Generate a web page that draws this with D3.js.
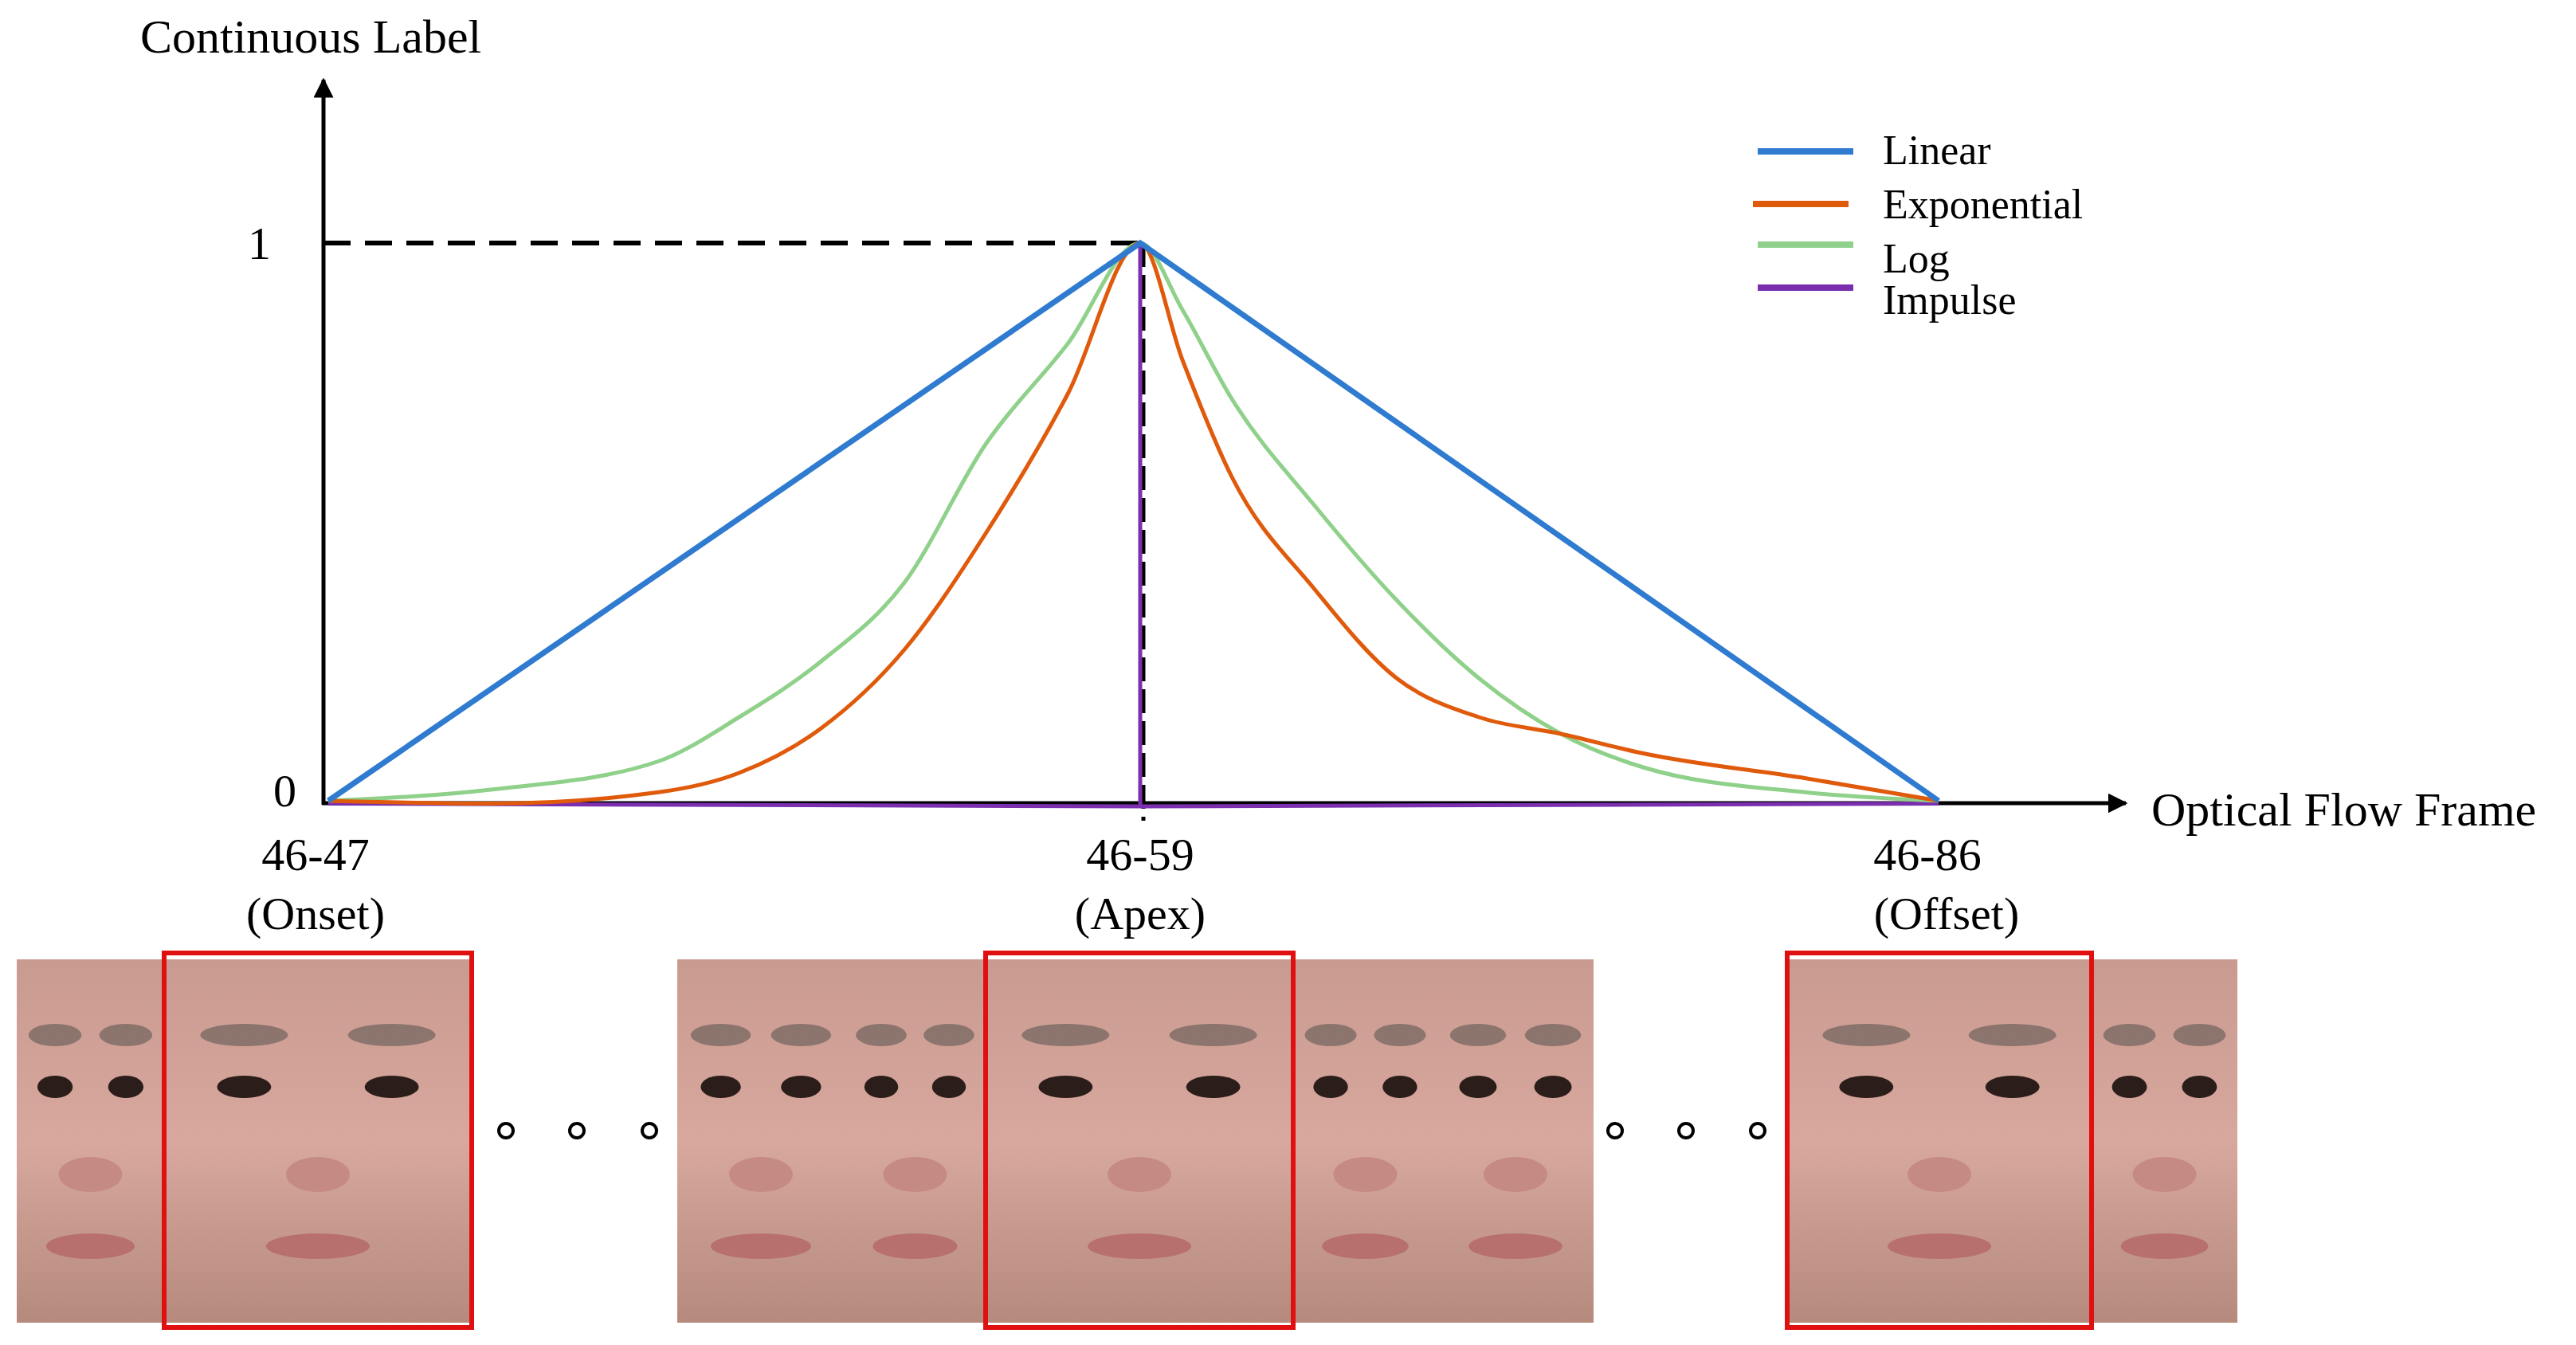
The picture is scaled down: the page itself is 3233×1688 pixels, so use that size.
<!DOCTYPE html>
<html><head><meta charset="utf-8">
<script src="https://cdn.jsdelivr.net/npm/d3@7"></script>
<style>body{margin:0;background:#fff}text{font-family:"Times New Roman","Liberation Serif","DejaVu Serif",serif;fill:#000}</style>
</head><body>
<svg id="chart" width="3233" height="1688"></svg>
<script>
// phase t: -1 = onset, 0 = apex, 1 = offset
var seriesNames = ["Linear", "Exponential", "Log", "Impulse"];
var seriesColors = ["#2f7bd0", "#e05a0c", "#8fd18a", "#7b2fae"];
var linearT = [-1, 0, 1];
var linearV = [0, 1, 0];
var expT = [-1, -0.8, -0.595, -0.494, -0.393, -0.291, -0.19, -0.089, 0, 0.053, 0.115, 0.218, 0.321, 0.424, 0.527, 0.63, 0.835, 1];
var expV = [0, -0.005, 0.015, 0.05, 0.13, 0.27, 0.48, 0.73, 1, 0.79, 0.58, 0.38, 0.22, 0.15, 0.12, 0.085, 0.04, 0];
var logT = [-1, -0.8, -0.595, -0.494, -0.393, -0.291, -0.19, -0.089, 0, 0.053, 0.115, 0.218, 0.321, 0.424, 0.527, 0.63, 0.835, 1];
var logV = [0, 0.02, 0.07, 0.15, 0.25, 0.39, 0.64, 0.82, 1, 0.88, 0.72, 0.53, 0.36, 0.22, 0.12, 0.06, 0.015, 0];
var impT = [-1, 0, 0, 0, 1];
var impV = [-0.005, -0.01, 1, -0.01, -0.005];
var tickLabels = ["46-47", "46-59", "46-86"];
var tickNotes = ["(Onset)", "(Apex)", "(Offset)"];
var tickT = [-1, 0, 1];

var svg = d3.select("#chart");
var xL = d3.scaleLinear().domain([-1, 0]).range([412, 1431]);
var xR = d3.scaleLinear().domain([0, 1]).range([1431, 2433]);
function x(t) { return t <= 0 ? xL(t) : xR(t); }
var y = d3.scaleLinear().domain([0, 1]).range([1005, 305]);

var defs = svg.append("defs");
defs.append("marker").attr("id", "arr").attr("viewBox", "0 0 10 10").attr("refX", 9).attr("refY", 5)
  .attr("markerWidth", 5).attr("markerHeight", 5).attr("orient", "auto")
  .append("path").attr("d", "M0,0L10,5L0,10z").attr("fill", "#000");

// dashed guides
svg.append("line").attr("x1", 406).attr("x2", x(0)).attr("y1", y(1)).attr("y2", y(1))
  .attr("stroke", "#000").attr("stroke-width", 6).attr("stroke-dasharray", "34,18");
svg.append("line").attr("x1", x(0) + 4).attr("x2", x(0) + 4).attr("y1", y(1)).attr("y2", 1030)
  .attr("stroke", "#000").attr("stroke-width", 5).attr("stroke-dasharray", "30,10");

// axes
svg.append("line").attr("x1", 406).attr("x2", 406).attr("y1", 1010).attr("y2", 100)
  .attr("stroke", "#000").attr("stroke-width", 5).attr("marker-end", "url(#arr)");
svg.append("line").attr("x1", 404).attr("x2", 2668).attr("y1", 1008).attr("y2", 1008)
  .attr("stroke", "#000").attr("stroke-width", 5).attr("marker-end", "url(#arr)");

var line = d3.line().x(function(d) { return x(d[0]); }).y(function(d) { return y(d[1]); });
var curve = d3.line().x(function(d) { return x(d[0]); }).y(function(d) { return y(d[1]); }).curve(d3.curveMonotoneX);
function pairs(ts, vs) { return ts.map(function(t, i) { return [t, vs[i]]; }); }

svg.append("path").attr("d", line(pairs(impT, impV))).attr("fill", "none").attr("stroke", seriesColors[3]).attr("stroke-width", 5);
svg.append("path").attr("d", curve(pairs(logT, logV))).attr("fill", "none").attr("stroke", seriesColors[2]).attr("stroke-width", 5);
svg.append("path").attr("d", curve(pairs(expT, expV))).attr("fill", "none").attr("stroke", seriesColors[1]).attr("stroke-width", 5);
svg.append("path").attr("d", line(pairs(linearT, linearV))).attr("fill", "none").attr("stroke", seriesColors[0]).attr("stroke-width", 7);

// labels
svg.append("text").attr("x", 176).attr("y", 66).attr("font-size", 60).text("Continuous Label");
svg.append("text").attr("x", 340).attr("y", y(1) + 20).attr("font-size", 58).attr("text-anchor", "end").text("1");
svg.append("text").attr("x", 372).attr("y", 1012).attr("font-size", 58).attr("text-anchor", "end").text("0");
svg.append("text").attr("x", 2700).attr("y", 1036).attr("font-size", 60).text("Optical Flow Frame");
var tickOff = [-16, 0, -14];
tickT.forEach(function(t, i) {
  svg.append("text").attr("x", x(t) + tickOff[i]).attr("y", 1092).attr("font-size", 58).attr("text-anchor", "middle").text(tickLabels[i]);
  svg.append("text").attr("x", x(t) + (i == 2 ? 10 : tickOff[i])).attr("y", 1166).attr("font-size", 58).attr("text-anchor", "middle").text(tickNotes[i]);
});

// legend
var legY = [190, 256, 307, 361], txtY = [206, 274, 342, 394];
seriesNames.forEach(function(n, i) {
  svg.append("line").attr("x1", i == 1 ? 2200 : 2206).attr("x2", i == 1 ? 2320 : 2326).attr("y1", legY[i]).attr("y2", legY[i])
    .attr("stroke", seriesColors[i]).attr("stroke-width", 8);
  svg.append("text").attr("x", 2363).attr("y", txtY[i]).attr("font-size", 52).text(n);
});

// face strip (placeholder drawings)
var g = defs.append("linearGradient").attr("id", "skin").attr("x1", 0).attr("x2", 0).attr("y1", 0).attr("y2", 1);
g.append("stop").attr("offset", 0).attr("stop-color", "#c99a8f");
g.append("stop").attr("offset", 0.5).attr("stop-color", "#d8a89e");
g.append("stop").attr("offset", 1).attr("stop-color", "#b58a7c");
var faces = [[21, 206], [850, 1060], [1060, 1237], [1623, 1804], [1804, 2000], [2625, 2808], [206, 592], [1237, 1623], [2243, 2625]];
faces.forEach(function(f, i) {
  var w = f[1] - f[0], cx = (f[0] + f[1]) / 2, top = 1204, h = 456;
  var ex = Math.min(w * 0.24, 95), br = Math.min(w * 0.18, 55), er = Math.min(w * 0.12, 34);
  var fg = svg.append("g");
  fg.append("rect").attr("x", f[0]).attr("y", top).attr("width", w).attr("height", h).attr("fill", "url(#skin)");
  [-1, 1].forEach(function(s) {
    fg.append("ellipse").attr("cx", cx + s * ex).attr("cy", top + 95).attr("rx", br).attr("ry", 14).attr("fill", "#6f625c").attr("opacity", 0.7);
    fg.append("ellipse").attr("cx", cx + s * ex).attr("cy", top + 160).attr("rx", er).attr("ry", 14).attr("fill", "#2b1d1a");
  });
  fg.append("ellipse").attr("cx", cx).attr("cy", top + 270).attr("rx", 40).attr("ry", 22).attr("fill", "#c58a84");
  fg.append("ellipse").attr("cx", cx).attr("cy", top + 360).attr("rx", Math.min(w * 0.3, 65)).attr("ry", 16).attr("fill", "#b8706e");
  if (i >= 6) fg.append("rect").attr("x", f[0]).attr("y", 1196).attr("width", w).attr("height", 470)
    .attr("fill", "none").attr("stroke", "#e01010").attr("stroke-width", 6);
});
var dotX = [635, 724, 815, 2027, 2116, 2206];
dotX.forEach(function(dx) {
  svg.append("circle").attr("cx", dx).attr("cy", 1419).attr("r", 9).attr("fill", "none").attr("stroke", "#000").attr("stroke-width", 4);
});
</script>
</body></html>
